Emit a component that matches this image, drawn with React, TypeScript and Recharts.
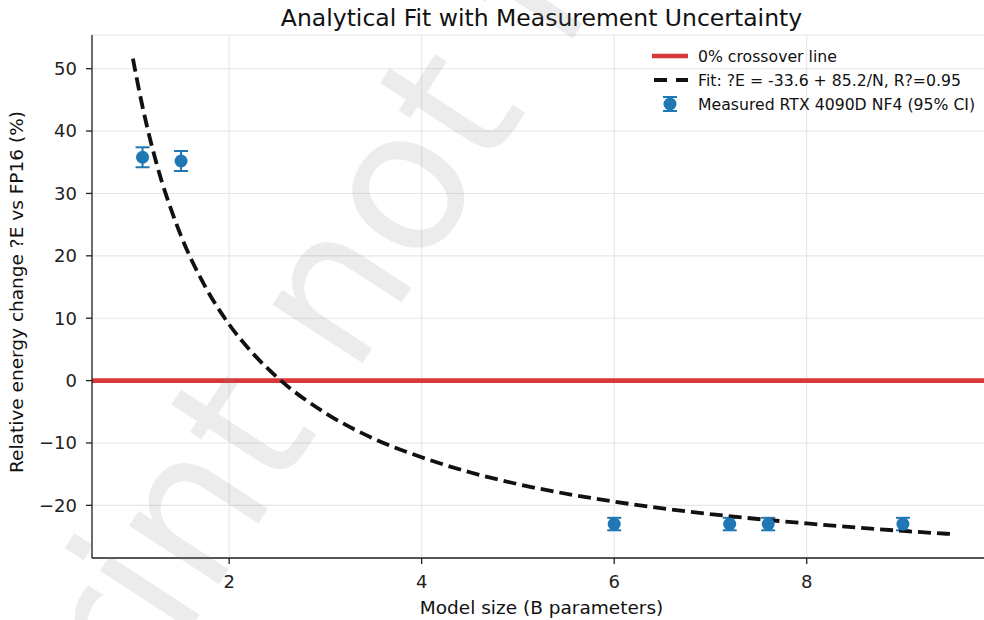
import React from 'react';
import {
  ComposedChart,
  Line,
  Scatter,
  ErrorBar,
  XAxis,
  YAxis,
  CartesianGrid,
  ReferenceLine,
} from 'recharts';

// fitted curve
const fitSize = [1.0, 1.1, 1.2, 1.3, 1.4, 1.5, 1.75, 2.0, 2.25, 2.5, 3.0, 3.5, 4.0, 4.5, 5.0, 6.0, 7.0, 8.0, 9.0, 9.5];
const fitChange = [51.6, 43.9, 37.4, 31.9, 27.3, 23.2, 15.1, 9.0, 4.3, 0.5, -5.2, -9.3, -12.3, -14.7, -16.6, -19.4, -21.4, -22.9, -24.1, -24.6];

// measured points with 95% CI half-widths
const modelSize = [1.1, 1.5, 6.0, 7.2, 7.6, 9.0];
const measuredChange = [35.8, 35.2, -23.0, -23.0, -23.0, -23.0];
const ciHalf = [1.6, 1.6, 1.0, 1.0, 1.0, 1.0];

const xTicks = [2, 4, 6, 8];
const yTicks = [-20, -10, 0, 10, 20, 30, 40, 50];

const FONT = '"DejaVu Sans", sans-serif';
const BLUE = '#1f77b4';
const RED = '#d62728';

const fitData = fitSize.map((x, i) => ({ x, fit: fitChange[i] }));
const measData = modelSize.map((x, i) => ({ x, e: measuredChange[i], ci: ciHalf[i] }));

const Dot = (props: any) => {
  const { cx, cy } = props;
  if (cx == null || cy == null) return null;
  return <circle cx={cx} cy={cy} r={6.5} fill={BLUE} />;
};

const App: React.FC = () => {
  return (
    <div
      style={{
        position: 'fixed',
        left: 0,
        top: 0,
        width: 984,
        height: 620,
        overflow: 'hidden',
        background: '#fff',
        fontFamily: FONT,
      }}
    >
      <ComposedChart width={1000} height={620} margin={{ top: 35, right: 8, left: 0, bottom: 0 }}>
        <CartesianGrid stroke="#e6e6e6" strokeWidth={1.1} />
        <XAxis
          type="number"
          dataKey="x"
          domain={[0.575, 9.925]}
          ticks={xTicks}
          allowDataOverflow
          height={62}
          tickSize={6}
          tickMargin={11}
          stroke="#222"
          strokeWidth={1.3}
          tick={{ fill: '#222', fontSize: 18, fontFamily: FONT }}
        />
        <XAxis
          xAxisId="top"
          orientation="top"
          type="number"
          domain={[0.575, 9.925]}
          ticks={[]}
          tickLine={false}
          height={0}
          stroke="#222"
          strokeWidth={1.3}
        />
        <YAxis
          type="number"
          domain={[-28.44, 55.4]}
          ticks={yTicks}
          allowDataOverflow
          width={92}
          tickSize={6}
          tickMargin={9}
          stroke="#222"
          strokeWidth={1.3}
          tick={{ fill: '#222', fontSize: 18, fontFamily: FONT }}
          tickFormatter={(v: number) => (v < 0 ? `\u2212${Math.abs(v)}` : `${v}`)}
        />
        <ReferenceLine y={0} stroke={RED} strokeOpacity={0.92} strokeWidth={4.7} />
        <Scatter data={measData} dataKey="e" shape={<Dot />} isAnimationActive={false}>
          <ErrorBar dataKey="ci" direction="y" width={7} strokeWidth={2} stroke={BLUE} />
        </Scatter>
        <Line
          data={fitData}
          dataKey="fit"
          type="monotone"
          stroke="#111"
          strokeWidth={3.8}
          strokeDasharray="13 6"
          dot={false}
          activeDot={false}
          isAnimationActive={false}
        />
      </ComposedChart>

      <svg
        width={984}
        height={620}
        style={{ position: 'absolute', left: 0, top: 0, pointerEvents: 'none' }}
        fontFamily={FONT}
      >
        <text x={541.5} y={25.5} textAnchor="middle" fontSize={23.5} fill="#111">
          Analytical Fit with Measurement Uncertainty
        </text>
        <text x={541.5} y={614} textAnchor="middle" fontSize={18.5} fill="#111">
          Model size (B parameters)
        </text>
        <text transform="translate(23,292) rotate(-90)" textAnchor="middle" fontSize={18.5} fill="#111">
          Relative energy change ?E vs FP16 (%)
        </text>

        {/* legend */}
        <g fontSize={15.7} fill="#111">
          <line x1={652} x2={688} y1={56} y2={56} stroke={RED} strokeOpacity={0.92} strokeWidth={4.7} />
          <text x={698} y={61.5}>0% crossover line</text>
          <line x1={652} x2={688} y1={80} y2={80} stroke="#111" strokeWidth={3.8} strokeDasharray="13 9" strokeDashoffset={-2} />
          <text x={698} y={85.5}>Fit: ?E = -33.6 + 85.2/N, R?=0.95</text>
          <line x1={670} x2={670} y1={97} y2={111} stroke={BLUE} strokeWidth={2} />
          <line x1={663} x2={677} y1={97} y2={97} stroke={BLUE} strokeWidth={2} />
          <line x1={663} x2={677} y1={111} y2={111} stroke={BLUE} strokeWidth={2} />
          <circle cx={670} cy={104} r={6.5} fill={BLUE} />
          <text x={698} y={109.5}>Measured RTX 4090D NF4 (95% CI)</text>
        </g>

        {/* watermark */}
        <text
          transform="translate(-107,1086) rotate(-57)"
          fontSize={196}
          fill="#808080"
          fillOpacity={0.15}
        >
          preprint not for distribution
        </text>
      </svg>
    </div>
  );
};

export default App;
